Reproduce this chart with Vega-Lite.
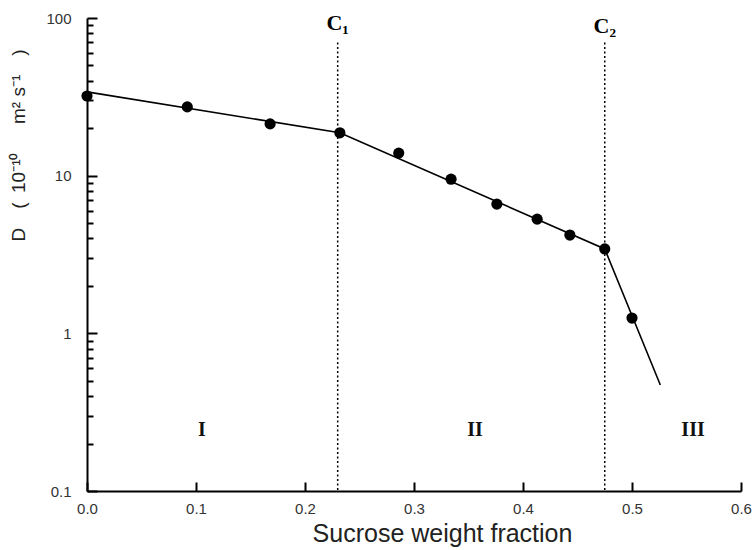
{
  "$schema": "https://vega.github.io/schema/vega-lite/v6.json",
  "width": 654,
  "height": 473,
  "autosize": {"type": "none"},
  "padding": {"left": 87, "top": 18, "right": 12, "bottom": 59},
  "background": "white",
  "config": {"view": {"stroke": null}},
  "datasets": {
    "points": [
      {"x": 0.0, "D": 32.0},
      {"x": 0.092, "D": 27.3},
      {"x": 0.168, "D": 21.3},
      {"x": 0.232, "D": 18.7},
      {"x": 0.286, "D": 13.9},
      {"x": 0.334, "D": 9.5},
      {"x": 0.376, "D": 6.6},
      {"x": 0.413, "D": 5.3},
      {"x": 0.443, "D": 4.2},
      {"x": 0.475, "D": 3.43},
      {"x": 0.5, "D": 1.25}
    ],
    "fit": [
      {"x": 0.0, "D": 34.0},
      {"x": 0.232, "D": 18.7},
      {"x": 0.475, "D": 3.43},
      {"x": 0.526, "D": 0.47}
    ],
    "crit": [
      {"x": 0.230, "top": 70, "bottom": 0.1, "label": "C₁", "ly": 84},
      {"x": 0.475, "top": 70, "bottom": 0.1, "label": "C₂", "ly": 80}
    ],
    "regions": [
      {"x": 0.1055, "D": 0.244, "label": "I"},
      {"x": 0.356, "D": 0.244, "label": "II"},
      {"x": 0.556, "D": 0.244, "label": "III"}
    ]
  },
  "layer": [
    {
      "data": {"name": "crit"},
      "mark": {"type": "rule", "strokeDash": [2, 2.5], "strokeWidth": 1.5, "color": "black"},
      "encoding": {
        "x": {"field": "x", "type": "quantitative"},
        "y": {"field": "top", "type": "quantitative"},
        "y2": {"field": "bottom"}
      }
    },
    {
      "data": {"name": "crit"},
      "mark": {"type": "text", "font": "Liberation Serif", "fontWeight": "bold", "fontSize": 22, "baseline": "alphabetic", "align": "center", "color": "black"},
      "encoding": {
        "x": {"field": "x", "type": "quantitative"},
        "y": {"field": "ly", "type": "quantitative"},
        "text": {"field": "label"}
      }
    },
    {
      "data": {"name": "regions"},
      "mark": {"type": "text", "font": "Liberation Serif", "fontWeight": "bold", "fontSize": 20, "baseline": "middle", "align": "center", "color": "#111"},
      "encoding": {
        "x": {"field": "x", "type": "quantitative"},
        "y": {"field": "D", "type": "quantitative"},
        "text": {"field": "label"}
      }
    },
    {
      "data": {"name": "fit"},
      "mark": {"type": "line", "color": "black", "strokeWidth": 1.6, "clip": false},
      "encoding": {
        "x": {"field": "x", "type": "quantitative"},
        "y": {"field": "D", "type": "quantitative"}
      }
    },
    {
      "data": {"name": "points"},
      "mark": {"type": "point", "filled": true, "shape": "circle", "size": 125, "color": "black", "opacity": 1},
      "encoding": {
        "x": {
          "field": "x", "type": "quantitative",
          "scale": {"domain": [0, 0.6], "nice": false, "zero": false},
          "axis": {
            "title": "Sucrose weight fraction",
            "values": [0, 0.1, 0.2, 0.3, 0.4, 0.5, 0.6],
            "format": ".1f",
            "grid": false,
            "labelFlush": false,
            "domainColor": "black", "domainWidth": 2,
            "tickColor": "black", "tickWidth": 2, "tickSize": -9,
            "labelFont": "Liberation Sans", "labelFontSize": 15, "labelColor": "#333",
            "labelPadding": 19,
            "titleFont": "Liberation Sans", "titleFontSize": 25, "titleFontWeight": "normal", "titleColor": "#222",
            "titleX": 355, "titleY": 50, "titleBaseline": "alphabetic"
          }
        },
        "y": {
          "field": "D", "type": "quantitative",
          "scale": {"type": "log", "domain": [0.1, 100], "nice": false},
          "axis": {
            "title": "D\u2002\u2002(\u200210⁻¹⁰\u2003\u2002m² s⁻¹\u2003)",
            "values": [0.1, 0.2, 0.3, 0.4, 0.5, 0.6, 0.7, 0.8, 0.9, 1, 2, 3, 4, 5, 6, 7, 8, 9, 10, 20, 30, 40, 50, 60, 70, 80, 90, 100],
            "format": "~g",
            "labelExpr": "(datum.value == 0.1 || datum.value == 1 || datum.value == 10 || datum.value == 100) ? datum.label : ''",
            "grid": false,
            "labelFlush": false,
            "domainColor": "black", "domainWidth": 2,
            "tickColor": "black", "tickWidth": 2,
            "tickSize": {"condition": {"test": "datum.value == 0.1 || datum.value == 1 || datum.value == 10 || datum.value == 100", "value": -10}, "value": -6},
            "labelFont": "Liberation Sans", "labelFontSize": 15, "labelColor": "#333",
            "labelPadding": 26,
            "titleFont": "Liberation Sans", "titleFontSize": 19, "titleFontWeight": "normal", "titleColor": "#222",
            "titleX": -59, "titleY": 127
          }
        }
      }
    }
  ]
}
